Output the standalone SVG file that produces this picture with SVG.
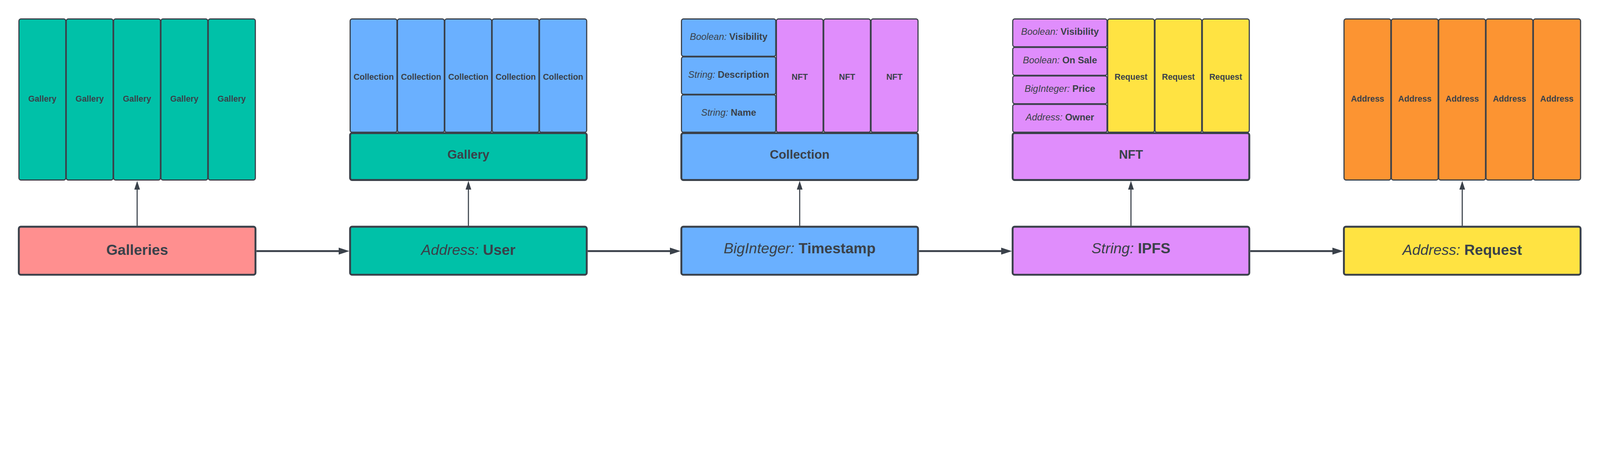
<svg xmlns="http://www.w3.org/2000/svg" width="6338" height="1164" viewBox="0 0 6338 1164" preserveAspectRatio="xMinYMin meet">
<defs>
<style>
svg{width:100vw;height:100vh}
.col{stroke:#3A414A;stroke-width:4.5}
.big{stroke:#3A414A;stroke-width:7.5}
.pink{fill:#FF8F8F}
.teal{fill:#00C1A8}
.blue{fill:#6AB0FF}
.purple{fill:#E08DFC}
.yellow{fill:#FFE342}
.orange{fill:#FC9432}
text{font-family:"Liberation Sans",Arial,sans-serif;fill:#3A414A;text-anchor:middle}
.t33{font-size:33px;font-weight:bold}
.t37{font-size:37px}
.t49{font-size:49px;font-weight:bold}
.t58{font-size:58px}
.i{font-style:italic;font-weight:normal}
.b{font-weight:bold}
.vline{stroke:#3A414A;stroke-width:4.3;fill:none}
.hline{stroke:#3A414A;stroke-width:7;fill:none}
</style>
<marker id="av" markerUnits="userSpaceOnUse" viewBox="0 0 35 23" markerWidth="35" markerHeight="23" refX="1" refY="11.5" orient="auto">
<path d="M0,0 L35,11.5 L0,23 z" fill="#3A414A"/>
</marker>
<marker id="ah" markerUnits="userSpaceOnUse" viewBox="0 0 43 28" markerWidth="43" markerHeight="28" refX="1" refY="14" orient="auto">
<path d="M0,0 L43,14 L0,28 z" fill="#3A414A"/>
</marker>
</defs>
<rect width="6338" height="1164" fill="#FFFFFF"/>

<!-- Group 1 : Galleries -->
<g id="gallery-col-1"><rect class="col teal" x="75" y="75" width="185.5" height="637.5" rx="8"/><text class="t33" x="168" y="402">Gallery</text></g>
<g id="gallery-col-2"><rect class="col teal" x="262.5" y="75" width="185.5" height="637.5" rx="8"/><text class="t33" x="355.5" y="402">Gallery</text></g>
<g id="gallery-col-3"><rect class="col teal" x="450" y="75" width="185.5" height="637.5" rx="8"/><text class="t33" x="543" y="402">Gallery</text></g>
<g id="gallery-col-4"><rect class="col teal" x="637.5" y="75" width="185.5" height="637.5" rx="8"/><text class="t33" x="730.5" y="402">Gallery</text></g>
<g id="gallery-col-5"><rect class="col teal" x="825" y="75" width="186.5" height="637.5" rx="8"/><text class="t33" x="918" y="402">Gallery</text></g>
<g id="galleries"><rect class="big pink" x="74.5" y="897.5" width="937.5" height="190" rx="8"/><text class="t58 b" x="543.25" y="1009">Galleries</text></g>

<!-- Group 2 : User -->
<g id="collection-col-1"><rect class="col blue" x="1387" y="75" width="185.5" height="448.5" rx="8"/><text class="t33" x="1480.5" y="315">Collection</text></g>
<g id="collection-col-2"><rect class="col blue" x="1574.5" y="75" width="185.5" height="448.5" rx="8"/><text class="t33" x="1668" y="315">Collection</text></g>
<g id="collection-col-3"><rect class="col blue" x="1762" y="75" width="185.5" height="448.5" rx="8"/><text class="t33" x="1855.5" y="315">Collection</text></g>
<g id="collection-col-4"><rect class="col blue" x="1949.5" y="75" width="185.5" height="448.5" rx="8"/><text class="t33" x="2043" y="315">Collection</text></g>
<g id="collection-col-5"><rect class="col blue" x="2137" y="75" width="187" height="448.5" rx="8"/><text class="t33" x="2230.5" y="315">Collection</text></g>
<g id="gallery-header"><rect class="big teal" x="1386.75" y="527" width="937.5" height="185.5" rx="8"/><text class="t49" x="1855.5" y="627.5">Gallery</text></g>
<g id="user"><rect class="big teal" x="1386.75" y="897.5" width="937.5" height="190" rx="8"/><text class="t58" x="1855.5" y="1009"><tspan class="i">Address: </tspan><tspan class="b">User</tspan></text></g>

<!-- Group 3 : Timestamp -->
<g id="attr-collection-visibility"><rect class="col blue" x="2699.5" y="75" width="373.5" height="147.8" rx="8"/><text class="t37" x="2886.5" y="158"><tspan class="i">Boolean: </tspan><tspan class="b">Visibility</tspan></text></g>
<g id="attr-collection-description"><rect class="col blue" x="2699.5" y="225.3" width="373.5" height="147.8" rx="8"/><text class="t37" x="2886.5" y="308"><tspan class="i">String: </tspan><tspan class="b">Description</tspan></text></g>
<g id="attr-collection-name"><rect class="col blue" x="2699.5" y="375.6" width="373.5" height="147.9" rx="8"/><text class="t37" x="2886.5" y="458.5"><tspan class="i">String: </tspan><tspan class="b">Name</tspan></text></g>
<g id="nft-col-1"><rect class="col purple" x="3075.5" y="75" width="185" height="448.5" rx="8"/><text class="t33" x="3168" y="315">NFT</text></g>
<g id="nft-col-2"><rect class="col purple" x="3263" y="75" width="185" height="448.5" rx="8"/><text class="t33" x="3355.5" y="315">NFT</text></g>
<g id="nft-col-3"><rect class="col purple" x="3450.5" y="75" width="186" height="448.5" rx="8"/><text class="t33" x="3543" y="315">NFT</text></g>
<g id="collection-header"><rect class="big blue" x="2699" y="527" width="937.5" height="185.5" rx="8"/><text class="t49" x="3167.75" y="627.5">Collection</text></g>
<g id="timestamp"><rect class="big blue" x="2699" y="897.5" width="937.5" height="190" rx="8"/><text class="t58" x="3167.75" y="1002"><tspan class="i">BigInteger: </tspan><tspan class="b">Timestamp</tspan></text></g>

<!-- Group 4 : IPFS -->
<g id="attr-nft-visibility"><rect class="col purple" x="4011.75" y="75" width="373.5" height="110.25" rx="8"/><text class="t37" x="4198.75" y="138"><tspan class="i">Boolean: </tspan><tspan class="b">Visibility</tspan></text></g>
<g id="attr-nft-onsale"><rect class="col purple" x="4011.75" y="187.75" width="373.5" height="110.25" rx="8"/><text class="t37" x="4198.75" y="251"><tspan class="i">Boolean: </tspan><tspan class="b">On Sale</tspan></text></g>
<g id="attr-nft-price"><rect class="col purple" x="4011.75" y="300.5" width="373.5" height="110.25" rx="8"/><text class="t37" x="4198.75" y="363.5"><tspan class="i">BigInteger: </tspan><tspan class="b">Price</tspan></text></g>
<g id="attr-nft-owner"><rect class="col purple" x="4011.75" y="413.25" width="373.5" height="110.25" rx="8"/><text class="t37" x="4198.75" y="476"><tspan class="i">Address: </tspan><tspan class="b">Owner</tspan></text></g>
<g id="request-col-1"><rect class="col yellow" x="4387.75" y="75" width="185" height="448.5" rx="8"/><text class="t33" x="4480.25" y="315">Request</text></g>
<g id="request-col-2"><rect class="col yellow" x="4575.25" y="75" width="185" height="448.5" rx="8"/><text class="t33" x="4667.75" y="315">Request</text></g>
<g id="request-col-3"><rect class="col yellow" x="4762.75" y="75" width="186" height="448.5" rx="8"/><text class="t33" x="4855.25" y="315">Request</text></g>
<g id="nft-header"><rect class="big purple" x="4011.25" y="527" width="937.5" height="185.5" rx="8"/><text class="t49" x="4480" y="627.5">NFT</text></g>
<g id="ipfs"><rect class="big purple" x="4011.25" y="897.5" width="937.5" height="190" rx="8"/><text class="t58" x="4480" y="1002"><tspan class="i">String: </tspan><tspan class="b">IPFS</tspan></text></g>

<!-- Group 5 : Request -->
<g id="address-col-1"><rect class="col orange" x="5324" y="75" width="185.5" height="637.5" rx="8"/><text class="t33" x="5417" y="402">Address</text></g>
<g id="address-col-2"><rect class="col orange" x="5511.5" y="75" width="185.5" height="637.5" rx="8"/><text class="t33" x="5604.5" y="402">Address</text></g>
<g id="address-col-3"><rect class="col orange" x="5699" y="75" width="185.5" height="637.5" rx="8"/><text class="t33" x="5792" y="402">Address</text></g>
<g id="address-col-4"><rect class="col orange" x="5886.5" y="75" width="185.5" height="637.5" rx="8"/><text class="t33" x="5979.5" y="402">Address</text></g>
<g id="address-col-5"><rect class="col orange" x="6074" y="75" width="187" height="637.5" rx="8"/><text class="t33" x="6167" y="402">Address</text></g>
<g id="request"><rect class="big yellow" x="5323.5" y="897.5" width="937.5" height="190" rx="8"/><text class="t58" x="5792.25" y="1009"><tspan class="i">Address: </tspan><tspan class="b">Request</tspan></text></g>

<!-- Connectors -->
<g id="connectors">
<path class="vline" d="M543.25,894 V750" marker-end="url(#av)"/>
<path class="vline" d="M1855.5,894 V750" marker-end="url(#av)"/>
<path class="vline" d="M3167.75,894 V750" marker-end="url(#av)"/>
<path class="vline" d="M4480,894 V750" marker-end="url(#av)"/>
<path class="vline" d="M5792.25,894 V750" marker-end="url(#av)"/>
<path class="hline" d="M1015.75,994 H1342" marker-end="url(#ah)"/>
<path class="hline" d="M2328,994 H2654.25" marker-end="url(#ah)"/>
<path class="hline" d="M3640.25,994 H3966.5" marker-end="url(#ah)"/>
<path class="hline" d="M4952.5,994 H5278.75" marker-end="url(#ah)"/>
</g>
</svg>
